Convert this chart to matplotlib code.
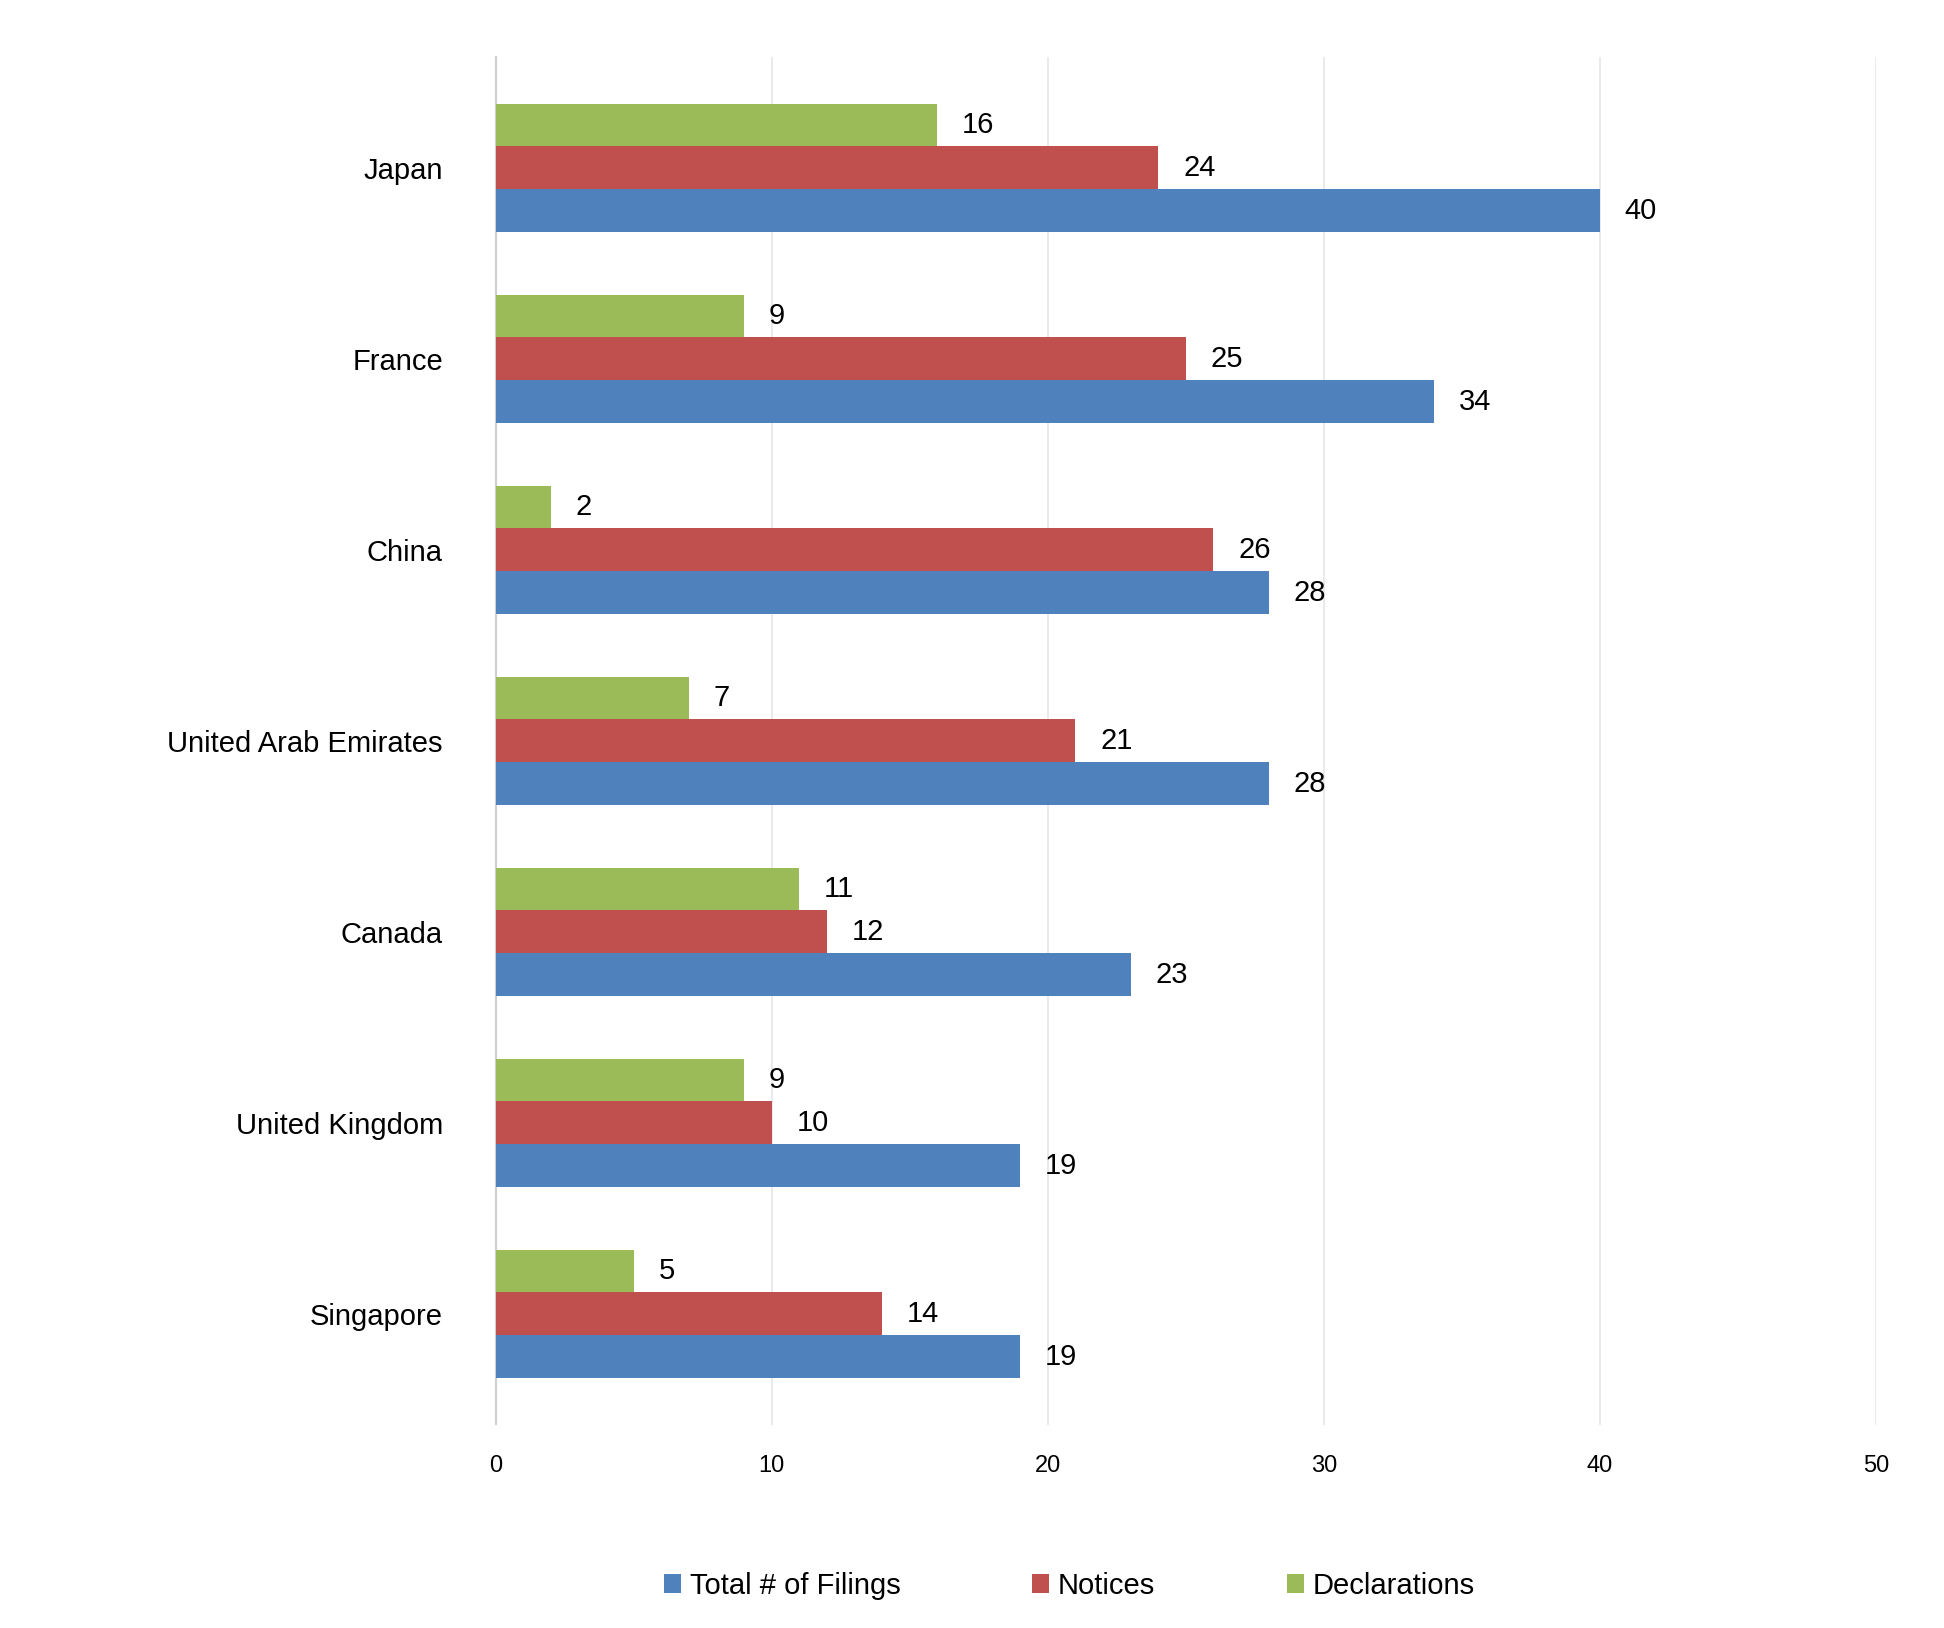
import matplotlib
matplotlib.use("Agg")
import matplotlib.pyplot as plt
import numpy as np

countries = ["Japan", "France", "China", "United Arab Emirates", "Canada", "United Kingdom", "Singapore"]
total = [40, 34, 28, 28, 23, 19, 19]
notices = [24, 25, 26, 21, 12, 10, 14]
declarations = [16, 9, 2, 7, 11, 9, 5]

plt.rcParams["font.family"] = "Liberation Sans"
fig = plt.figure(figsize=(19.44, 16.28), dpi=100)
ax = fig.add_axes([0.255, 0.125, 0.71, 0.84])

y = np.arange(len(countries))[::-1].astype(float)
h = 0.224
series = [("Total # of Filings", total, "#4F81BD", -h),
          ("Notices", notices, "#C0504D", 0),
          ("Declarations", declarations, "#9BBB59", h)]
for name, vals, col, off in series:
    bars = ax.barh(y + off, vals, height=h, color=col, label=name, zorder=3)
    for b, v in zip(bars, vals):
        ax.text(v + 0.9, b.get_y() + h / 2, str(v), va="center", ha="left", fontsize=21, zorder=4)

ax.set_xlim(0, 50)
ax.set_ylim(-0.58, 6.58)
ax.set_xticks(range(0, 51, 10))
ax.set_yticks(y)
ax.set_yticklabels(countries, fontsize=21)
ax.tick_params(axis="x", labelsize=17, length=0, pad=22)
ax.tick_params(axis="y", length=0, pad=38)
ax.grid(axis="x", color="#E6E6E6", linewidth=1.2, zorder=0)
for s in ["top", "right", "bottom"]:
    ax.spines[s].set_visible(False)
ax.spines["left"].set_color("#D0D0D0")
ax.spines["left"].set_linewidth(1.5)

handles, labels = ax.get_legend_handles_labels()
fig.legend(handles, labels, loc="center", bbox_to_anchor=(0.55, 0.026), ncol=3, frameon=False,
           fontsize=21, handlelength=0.6, handleheight=0.6, handletextpad=0.3, columnspacing=4.5)
fig.savefig("out.png", dpi=100, facecolor="white")
